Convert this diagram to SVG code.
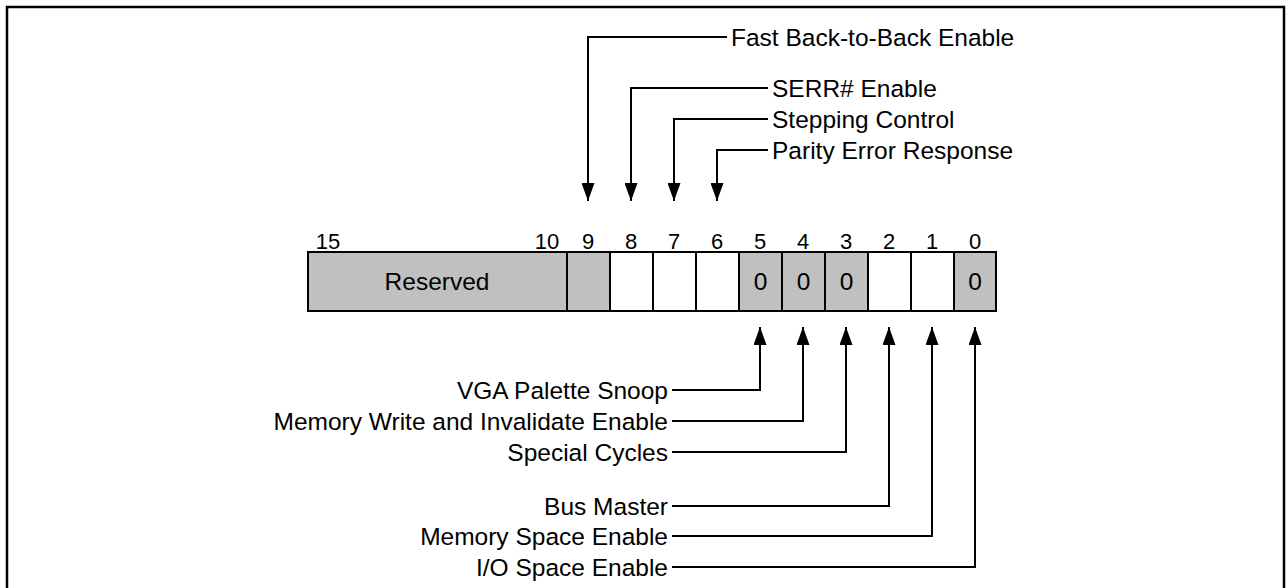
<svg xmlns="http://www.w3.org/2000/svg" width="1286" height="588" viewBox="0 0 1286 588">
  <defs>
    <style>
      text { font-family: "Liberation Sans", Arial, sans-serif; fill: #000; }
      .lbl { font-size: 24.5px; }
      .bit { font-size: 22px; text-anchor: middle; }
      .val { font-size: 24.5px; text-anchor: middle; }
      .end { text-anchor: end; }
      .cell { stroke: #000; stroke-width: 2; }
      .ro { fill: #c0c0c0; }
      .rw { fill: #fff; }
      .wire { fill: none; stroke: #000; stroke-width: 2; }
    </style>
    <marker id="arrow" viewBox="0 0 18 13" refX="18" refY="6.5" markerWidth="18" markerHeight="13" markerUnits="userSpaceOnUse" orient="auto">
      <path d="M0,0 L18,6.5 L0,13 Z" fill="#000"/>
    </marker>
  </defs>

  <!-- outer frame -->
  <path d="M7,588 V7 H1284 V588" fill="none" stroke="#000" stroke-width="2.5"/>

  <!-- bit numbers -->
  <g id="bit-numbers">
    <text class="bit" x="328" y="249">15</text>
    <text class="bit" x="547" y="249">10</text>
    <text class="bit" x="588" y="249">9</text>
    <text class="bit" x="631" y="249">8</text>
    <text class="bit" x="674" y="249">7</text>
    <text class="bit" x="717" y="249">6</text>
    <text class="bit" x="760" y="249">5</text>
    <text class="bit" x="803" y="249">4</text>
    <text class="bit" x="846" y="249">3</text>
    <text class="bit" x="889" y="249">2</text>
    <text class="bit" x="932" y="249">1</text>
    <text class="bit" x="975" y="249">0</text>
  </g>

  <!-- register fields -->
  <g id="reserved">
    <rect class="cell ro" x="308" y="252" width="259" height="59"/>
    <text class="val" x="437" y="290">Reserved</text>
  </g>
  <g id="bit9"><rect class="cell ro" x="567" y="252" width="43" height="59"/></g>
  <g id="bit8"><rect class="cell rw" x="610" y="252" width="43" height="59"/></g>
  <g id="bit7"><rect class="cell rw" x="653" y="252" width="43" height="59"/></g>
  <g id="bit6"><rect class="cell rw" x="696" y="252" width="43" height="59"/></g>
  <g id="bit5">
    <rect class="cell ro" x="739" y="252" width="43" height="59"/>
    <text class="val" x="760.5" y="290">0</text>
  </g>
  <g id="bit4">
    <rect class="cell ro" x="782" y="252" width="43" height="59"/>
    <text class="val" x="803.5" y="290">0</text>
  </g>
  <g id="bit3">
    <rect class="cell ro" x="825" y="252" width="43" height="59"/>
    <text class="val" x="846.5" y="290">0</text>
  </g>
  <g id="bit2"><rect class="cell rw" x="868" y="252" width="43" height="59"/></g>
  <g id="bit1"><rect class="cell rw" x="911" y="252" width="43" height="59"/></g>
  <g id="bit0">
    <rect class="cell ro" x="954" y="252" width="42" height="59"/>
    <text class="val" x="975" y="290">0</text>
  </g>

  <!-- field labels -->
  <g id="label-fast-b2b"><text class="lbl" x="731" y="46">Fast Back-to-Back Enable</text></g>
  <g id="label-serr"><text class="lbl" x="772" y="97">SERR# Enable</text></g>
  <g id="label-stepping"><text class="lbl" x="772" y="128">Stepping Control</text></g>
  <g id="label-parity"><text class="lbl" x="772" y="159">Parity Error Response</text></g>
  <g id="label-vga"><text class="lbl end" x="668" y="399">VGA Palette Snoop</text></g>
  <g id="label-mwi"><text class="lbl end" x="668" y="430">Memory Write and Invalidate Enable</text></g>
  <g id="label-special"><text class="lbl end" x="668" y="461">Special Cycles</text></g>
  <g id="label-busmaster"><text class="lbl end" x="668" y="515">Bus Master</text></g>
  <g id="label-memspace"><text class="lbl end" x="668" y="545">Memory Space Enable</text></g>
  <g id="label-iospace"><text class="lbl end" x="668" y="576">I/O Space Enable</text></g>

  <!-- connectors -->
  <g id="connectors">
    <path class="wire" marker-end="url(#arrow)" d="M727,37 H588 V201"/>
    <path class="wire" marker-end="url(#arrow)" d="M768,88 H631 V201"/>
    <path class="wire" marker-end="url(#arrow)" d="M768,119 H674 V201"/>
    <path class="wire" marker-end="url(#arrow)" d="M768,150 H717 V201"/>
    <path class="wire" marker-end="url(#arrow)" d="M672,390 H760 V327"/>
    <path class="wire" marker-end="url(#arrow)" d="M672,421 H803 V327"/>
    <path class="wire" marker-end="url(#arrow)" d="M672,452 H846 V327"/>
    <path class="wire" marker-end="url(#arrow)" d="M672,506 H889 V327"/>
    <path class="wire" marker-end="url(#arrow)" d="M672,536 H932 V327"/>
    <path class="wire" marker-end="url(#arrow)" d="M672,567 H975 V327"/>
  </g>
</svg>
